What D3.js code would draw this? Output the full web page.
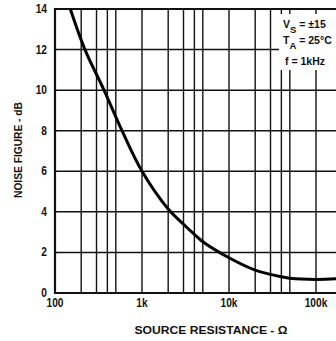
<!DOCTYPE html>
<html><head><meta charset="utf-8">
<script src="https://cdn.jsdelivr.net/npm/d3@7"></script>
<style>
html,body{margin:0;padding:0;background:#fff;}
svg text{font-family:"Liberation Sans","Arial",sans-serif;font-weight:bold;fill:#111;}
</style></head>
<body>
<svg id="c" width="336" height="341"></svg>
<script>
// Data
const resistance = [150, 221, 366, 589, 1000, 2000, 3000, 4000, 5000, 10000, 20000, 30000, 40000, 50000, 100000, 170000];
const noiseFigure = [14, 12, 10, 8, 6, 4.14, 3.39, 2.89, 2.53, 1.74, 1.13, 0.92, 0.80, 0.73, 0.67, 0.70];
const xGrid = [200, 300, 400, 500, 1000, 2000, 3000, 4000, 5000, 10000, 20000, 30000, 40000, 50000, 100000, 200000];
const xTickValues = [100, 1000, 10000, 100000];
const xTickLabels = ["100", "1k", "10k", "100k"];
const yTickValues = [0, 2, 4, 6, 8, 10, 12, 14];
const conditions = ["V|S| = ±15", "T|A| = 25°C", "f = 1kHz"];

const svg = d3.select("#c");
const x = d3.scaleLog().domain([100, 1e6]).range([55, 403]);
const y = d3.scaleLinear().domain([0, 14]).range([293, 9]);

const g = svg.append("g");
// horizontal grid
g.selectAll("line.h").data(yTickValues).join("line")
  .attr("x1", x(100)).attr("x2", 336)
  .attr("y1", d => y(d)).attr("y2", d => y(d))
  .attr("stroke", "#111").attr("stroke-width", d => (d === 0 || d === 14) ? 2.2 : 1.5);
// vertical grid
g.selectAll("line.v").data(xGrid).join("line")
  .attr("x1", d => x(d)).attr("x2", d => x(d))
  .attr("y1", y(14)).attr("y2", y(0))
  .attr("stroke", "#111").attr("stroke-width", 1.4);
// left border
g.append("line").attr("x1", x(100)).attr("x2", x(100)).attr("y1", y(14) - 1).attr("y2", y(0) + 1)
  .attr("stroke", "#111").attr("stroke-width", 2.2);

// clip
svg.append("clipPath").attr("id", "pc").append("rect")
  .attr("x", x(100)).attr("y", y(14)).attr("width", 336 - x(100)).attr("height", y(0) - y(14));

const pts = resistance.map((r, i) => [r, noiseFigure[i]]);
svg.append("path").datum(pts)
  .attr("clip-path", "url(#pc)")
  .attr("fill", "none").attr("stroke", "#000").attr("stroke-width", 3)
  .attr("stroke-linejoin", "round")
  .attr("d", d3.line().x(d => x(d[0])).y(d => y(d[1])).curve(d3.curveCatmullRom.alpha(0.5)));

// conditions box
svg.append("rect").attr("x", 279).attr("y", 14).attr("width", 57).attr("height", 56).attr("fill", "#fff");
const ct = svg.append("g").attr("font-size", 10.5);
const cy = [28, 44, 65];
conditions.forEach((c, i) => {
  const parts = c.split("|");
  const t = ct.append("text").attr("x", i === 2 ? 285 : 283).attr("y", cy[i]);
  if (parts.length === 3) {
    t.append("tspan").text(parts[0]);
    t.append("tspan").attr("dy", 5).attr("font-size", 9.5).text(parts[1]);
    t.append("tspan").attr("dy", -5).text(parts[2]);
  } else {
    t.text(c);
  }
});

// x tick labels
svg.selectAll("text.xt").data(xTickValues).join("text")
  .attr("transform", d => `translate(${x(d)},307) scale(0.85,1)`)
  .attr("text-anchor", "middle").attr("font-size", 12)
  .text((d, i) => xTickLabels[i]);
// y tick labels
svg.selectAll("text.yt").data(yTickValues).join("text")
  .attr("transform", d => `translate(47,${y(d) + 4}) scale(0.85,1)`)
  .attr("text-anchor", "end").attr("font-size", 12)
  .text(d => d);

// axis titles
svg.append("text").attr("x", 211).attr("y", 334).attr("text-anchor", "middle").attr("font-size", 11)
  .attr("textLength", 153).attr("lengthAdjust", "spacingAndGlyphs")
  .text("SOURCE RESISTANCE - Ω");
svg.append("text").attr("transform", "translate(22,150) rotate(-90)").attr("text-anchor", "middle").attr("font-size", 11)
  .attr("textLength", 96).attr("lengthAdjust", "spacingAndGlyphs")
  .text("NOISE FIGURE - dB");
</script>
</body></html>
